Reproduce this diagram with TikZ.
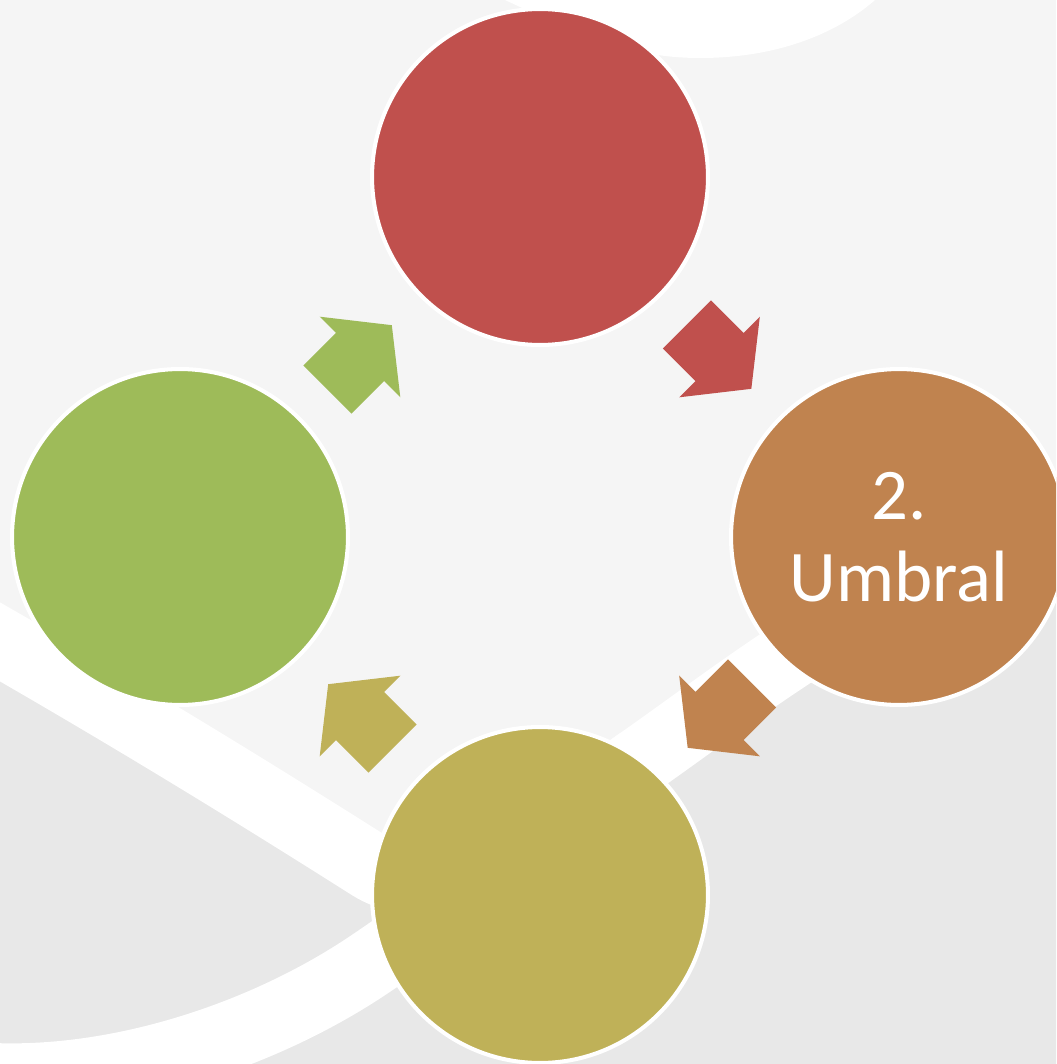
\documentclass[tikz,border=0pt]{standalone}
\usepackage{fontspec}
\usepackage{xcolor}
\usepackage{tikz}
\usetikzlibrary{calc}
\newfontfamily\carlito{Carlito}
\definecolor{CicloRojo}{HTML}{C0504D}
\definecolor{CicloNaranja}{HTML}{C0834F}
\definecolor{CicloOliva}{HTML}{BFB158}
\definecolor{CicloVerde}{HTML}{9EBB59}
\definecolor{FondoClaro}{HTML}{F5F5F5}
\definecolor{FondoOscuro}{HTML}{E8E8E8}

\begin{document}
\begin{tikzpicture}[x=0.02cm, y=-0.02cm]
      \tikzset{
        etapa/.style={circle, draw=white, line width=2.3pt, minimum size=6.72cm, inner sep=0pt, align=center, text=white, font=\carlito\fontsize{41.4}{46.5}\selectfont},
        cinta/.style={draw=white, line width=39pt},
        flecha/.pic={\fill[#1] (-46,-34) -- (0,-34) -- (0,-57) -- (45,0) -- (0,57) -- (0,34) -- (-46,34) -- cycle;}
      }
      \useasboundingbox (0,0) rectangle (1056,1064);
      \clip (0,0) rectangle (1056,1064);

      \fill[FondoClaro] (0,0) rectangle (1056,1064);
      \fill[FondoOscuro] (-40,619) .. controls (120,710) and (250,790) .. (370,866) .. controls (450,916) and (560,817) .. (640,761) .. controls (760,677) and (900,560) .. (1100,520) -- (1100,1100) -- (-40,1100) -- cycle;
      \path[cinta] (-60,1072) .. controls (80,1095) and (250,1045) .. (370,964) .. controls (480,890) and (560,817) .. (640,761);
      \path[cinta] (-40,619) .. controls (120,710) and (250,790) .. (370,866) .. controls (450,916) and (560,817) .. (640,761) .. controls (760,677) and (900,560) .. (1100,520);
      \fill[white] (505,0) .. controls (580,35) and (630,58) .. (700,58) .. controls (775,58) and (835,35) .. (875,0) -- cycle;

      \node[etapa, fill=CicloRojo] (uno) at (540,177) {};
      \node[etapa, fill=CicloNaranja] (umbral) at (899,537) {2.\\Umbral};
      \node[etapa, fill=CicloOliva] (tres) at (540,895) {};
      \node[etapa, fill=CicloVerde] (cuatro) at (180,537) {};

      \pic[rotate=-45] at ($(uno)!0.5!(umbral)$) {flecha=CicloRojo};
      \pic[rotate=-135] at ($(umbral)!0.5!(tres)$) {flecha=CicloNaranja};
      \pic[rotate=135] at ($(tres)!0.5!(cuatro)$) {flecha=CicloOliva};
      \pic[rotate=45] at ($(cuatro)!0.5!(uno)$) {flecha=CicloVerde};
    \end{tikzpicture}
\end{document}
